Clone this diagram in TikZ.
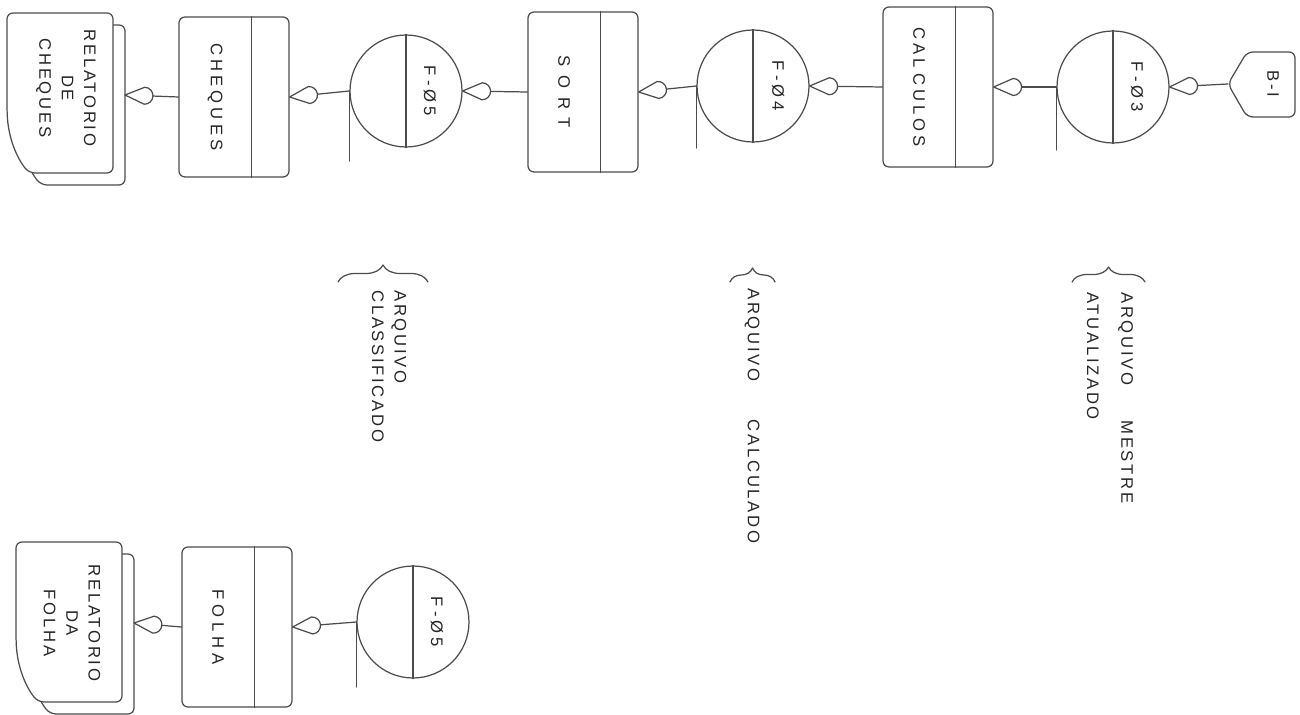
\documentclass[tikz,border=0pt]{standalone}
\usepackage{fontspec}
\setmainfont{Liberation Sans}
\newfontfamily\letra[LetterSpace=16]{Liberation Sans}
\usetikzlibrary{arrows.meta,calc,decorations.pathreplacing}

% ponta em gota (aberta)
\pgfdeclarearrow{
  name=Gota,
  parameters={\the\pgfarrowlength,\the\pgfarrowwidth},
  setup code={
    \pgfarrowssettipend{0pt}
    \pgfarrowssetlineend{-\pgfarrowlength}
    \pgfarrowssetbackend{-\pgfarrowlength}
    \pgfarrowssetvisualbackend{-\pgfarrowlength}
    \pgfarrowshullpoint{0pt}{0pt}
    \pgfarrowshullpoint{-\pgfarrowlength}{.5\pgfarrowwidth}
    \pgfarrowshullpoint{-\pgfarrowlength}{-.5\pgfarrowwidth}
    \pgfarrowssavethe\pgfarrowlength
    \pgfarrowssavethe\pgfarrowwidth
  },
  drawing code={
    \pgfpathmoveto{\pgfpointorigin}
    \pgfpathlineto{\pgfpoint{-\pgfarrowlength+.5\pgfarrowwidth}{.5\pgfarrowwidth}}
    \pgfpatharc{90}{270}{.5\pgfarrowwidth}
    \pgfpathclose
    \pgfusepathqstroke
  },
  defaults={length=5mm,width=3mm}
}

\tikzset{
  linha/.style={draw=black!70,line width=0.7pt},
  proc/.style={linha,rectangle,rounded corners=1.2mm,minimum width=2.2cm,minimum height=3.2cm,inner sep=0pt},
  fita/.style={linha,circle,minimum size=2.24cm,inner sep=0pt},
  rot/.style={rotate=-90,text=black!85,font=\letra\fontsize{9.5}{12.8}\selectfont,inner sep=0pt},
  seta/.style={linha,-{Gota[length=0.56cm,width=0.34cm]}},
  chave/.style={linha,decorate,decoration={brace,amplitude=#1}},
  relatorio/.pic={
    \foreach \d in {12,0}
      \path[linha,fill=white,rounded corners=1.2mm,shift={(\d,\d)}]
        (0,95) -- (0,0) -- (106,0) -- (106,160) -- (22,160)
        .. controls (10,145) and (1,125) .. (0,95) -- cycle;
  }
}

\begin{document}
\begin{tikzpicture}[x=0.02cm,y=-0.02cm,line join=round,line cap=round]
  \useasboundingbox (0,0) rectangle (1300,715);

  % linha de cima
  \pic at (7,13) {relatorio};
  \node[rot,align=center] (rcheq) at (66,88) {RELATORIO\\DE\\CHEQUES};
  \coordinate (rel1) at (125,95);

  \node[proc] (cheq) at (234,97) {};
  \draw[linha] ([xshift=-0.76cm]cheq.north east) -- ([xshift=-0.76cm]cheq.south east);
  \node[rot] (tcheq) at ([xshift=-0.38cm]cheq.center) {\addfontfeature{LetterSpace=24}CHEQUES};

  \node[fita] (t5) at (406,91) {};
  \draw[linha] (t5.north) -- (t5.south);
  \draw[linha] (t5.west) -- ++(0,70);
  \node[rot] (tt5) at ([xshift=0.48cm]t5.center) {\addfontfeature{LetterSpace=25}F-Ø5};

  \node[proc] (sort) at (583,92) {};
  \draw[linha] ([xshift=-0.76cm]sort.north east) -- ([xshift=-0.76cm]sort.south east);
  \node[rot] (tsort) at ([xshift=-0.38cm]sort.center) {\addfontfeature{LetterSpace=52}SORT};

  \node[fita] (t4) at (753,86) {};
  \draw[linha] (t4.north) -- (t4.south);
  \draw[linha] (t4.west) -- ++(0,62);
  \node[rot] (tt4) at ([xshift=0.5cm]t4.center) {\addfontfeature{LetterSpace=25}F-Ø4};

  \node[proc] (calc) at (938,87) {};
  \draw[linha] ([xshift=-0.76cm]calc.north east) -- ([xshift=-0.76cm]calc.south east);
  \node[rot] (tcalc) at ([xshift=-0.38cm]calc.center) {\addfontfeature{LetterSpace=24}CAL\hspace{3pt}CULOS};

  \node[fita] (t3) at (1113,87) {};
  \draw[linha] (t3.north) -- (t3.south);
  \draw[linha] (t3.west) -- ++(0,63);
  \node[rot] (tt3) at ([xshift=0.48cm]t3.center) {\addfontfeature{LetterSpace=25}F-Ø3};

  \coordinate (bi) at (1228,84);
  \draw[linha,rounded corners=1.2mm] (bi) -- (1247,52) -- (1295,52) -- (1295,117) -- (1247,117) -- cycle;
  \node[rot] (tbi) at (1273,84) {B-I};

  \draw[seta] (cheq.west) -- (rel1);
  \draw[seta] (t5.west) -- (cheq.east);
  \draw[seta] (sort.west) -- (t5.east);
  \draw[seta] (t4.west) -- (sort.east);
  \draw[seta] (calc.west) -- (t4.east);
  \draw[seta] (t3.west) -- (calc.east);
  \draw[seta] (bi) -- (t3.east);

  % chaves
  \draw[chave=0.34cm] (338,282) -- (428,282);
  \node[rot,anchor=west,align=left] (aclass) at (389,290) {ARQUIVO\\CLASSIFICADO};
  \draw[chave=0.28cm] (730,282) -- (775,282);
  \node[rot,anchor=west] (acalc) at (752,288) {ARQUIVO\hspace{22pt}CALCULADO};
  \draw[chave=0.3cm] (1072,282) -- (1145,282);
  \node[rot,anchor=west,align=left] (amestre) at (1110,292) {ARQUIVO\hspace{20pt}MESTRE\\[6.6pt]ATUALIZADO};

  % linha de baixo
  \pic at (16,542) {relatorio};
  \node[rot,align=center] (rfolha) at (72,623) {RELATORIO\\DA\\FOLHA};
  \coordinate (rel2) at (134,623);

  \node[proc] (folha) at (237,627) {};
  \draw[linha] ([xshift=-0.76cm]folha.north east) -- ([xshift=-0.76cm]folha.south east);
  \node[rot] (tfolha) at ([xshift=-0.38cm]folha.center) {\addfontfeature{LetterSpace=30}FOLHA};

  \node[fita] (t5b) at (413,622) {};
  \draw[linha] (t5b.north) -- (t5b.south);
  \draw[linha] (t5b.west) -- ++(0,65);
  \node[rot] (tt5b) at ([xshift=0.48cm]t5b.center) {\addfontfeature{LetterSpace=25}F-Ø5};

  \draw[seta] (folha.west) -- (rel2);
  \draw[seta] (t5b.west) -- (folha.east);
\end{tikzpicture}
\end{document}
